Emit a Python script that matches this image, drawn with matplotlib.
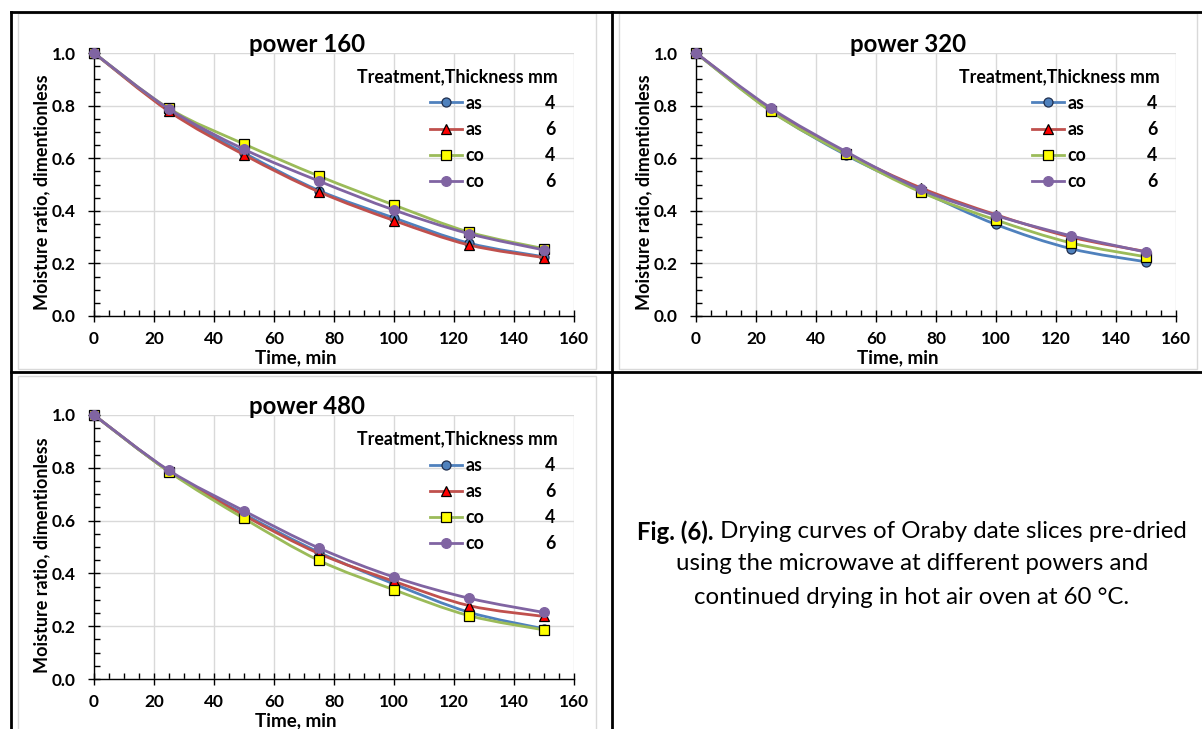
import numpy as np
import matplotlib
matplotlib.use("Agg")
import matplotlib.pyplot as plt
from matplotlib.path import Path
from matplotlib.patches import PathPatch, Rectangle
from matplotlib.lines import Line2D
from matplotlib.ticker import MultipleLocator, FormatStrFormatter

plt.rcParams["font.family"] = ["Lato", "DejaVu Sans"]
plt.rcParams["font.weight"] = "bold"

# Drying time (min)
time_min = [0, 25, 50, 75, 100, 125, 150]

# Moisture ratio for each microwave power (treatment, thickness)
p160_as4 = [1.0, 0.782, 0.620, 0.477, 0.373, 0.277, 0.225]
p160_as6 = [1.0, 0.778, 0.613, 0.472, 0.363, 0.270, 0.222]
p160_co4 = [1.0, 0.789, 0.654, 0.532, 0.422, 0.319, 0.256]
p160_co6 = [1.0, 0.787, 0.634, 0.513, 0.403, 0.313, 0.251]

p320_as4 = [1.0, 0.780, 0.612, 0.475, 0.348, 0.256, 0.206]
p320_as6 = [1.0, 0.785, 0.620, 0.487, 0.385, 0.300, 0.245]
p320_co4 = [1.0, 0.778, 0.615, 0.471, 0.365, 0.278, 0.225]
p320_co6 = [1.0, 0.790, 0.625, 0.481, 0.382, 0.305, 0.243]

p480_as4 = [1.0, 0.787, 0.625, 0.480, 0.360, 0.253, 0.190]
p480_as6 = [1.0, 0.787, 0.620, 0.475, 0.370, 0.278, 0.237]
p480_co4 = [1.0, 0.785, 0.608, 0.449, 0.338, 0.240, 0.186]
p480_co6 = [1.0, 0.790, 0.637, 0.496, 0.386, 0.306, 0.252]

treatments = ["as", "as", "co", "co"]
thickness = ["4", "6", "4", "6"]
panel_titles = ["power 160", "power 320", "power 480"]
panel_data = [
    [p160_as4, p160_as6, p160_co4, p160_co6],
    [p320_as4, p320_as6, p320_co4, p320_co6],
    [p480_as4, p480_as6, p480_co4, p480_co6],
]

line_colors = ["#4F81BD", "#C0504D", "#9BBB59", "#8064A2"]
marker_styles = [
    dict(marker="o", markersize=6.5, markerfacecolor="#4F81BD", markeredgecolor="#1F2F4F", markeredgewidth=0.9),
    dict(marker="^", markersize=7, markerfacecolor="#FF0000", markeredgecolor="#000000", markeredgewidth=0.9),
    dict(marker="s", markersize=7, markerfacecolor="#FFFF00", markeredgecolor="#000000", markeredgewidth=0.9),
    dict(marker="o", markersize=7, markerfacecolor="#8064A2", markeredgecolor="#8064A2", markeredgewidth=0.9),
]

W, H = 1202, 729
fig = plt.figure(figsize=(W / 100, H / 100), dpi=100)


def px_rect(left, top, right, bottom):
    return [left / W, 1 - bottom / H, (right - left) / W, (bottom - top) / H]


def smooth_path(x, y):
    """Cubic Bezier path through the points (smoothed line)."""
    pts = np.column_stack([x, y]).astype(float)
    n = len(pts)
    verts = [pts[0]]
    for i in range(n - 1):
        prev_pt = pts[i - 1] if i > 0 else pts[i]
        next_pt = pts[i + 2] if i + 2 < n else pts[i + 1]
        c1 = pts[i] + (pts[i + 1] - prev_pt) / 6.0
        c2 = pts[i + 1] - (next_pt - pts[i]) / 6.0
        verts += [c1, c2, pts[i + 1]]
    codes = [Path.MOVETO] + [Path.CURVE4] * (3 * (n - 1))
    return Path(verts, codes)


# chart-area outlines (light grey frames)
chart_frames = [(18, 13, 596, 369), (619, 13, 1197, 369), (18, 376, 596, 740)]
for l, t, r, b in chart_frames:
    fig.add_artist(Rectangle((l / W, 1 - b / H), (r - l) / W, (b - t) / H,
                             transform=fig.transFigure, fill=False,
                             edgecolor="#D9D9D9", linewidth=1.0))

axes_boxes = [(94, 53, 574, 316), (696, 53, 1176, 316), (94, 415, 574, 679)]
title_x = [307, 908, 307]
FS_LEG = 12.8

for k, (box, ttl, series) in enumerate(zip(axes_boxes, panel_titles, panel_data)):
    ax = fig.add_axes(px_rect(*box))
    ax.set_xlim(0, 160)
    ax.set_ylim(0, 1.0)
    ax.xaxis.set_major_locator(MultipleLocator(20))
    ax.xaxis.set_minor_locator(MultipleLocator(5))
    ax.yaxis.set_major_locator(MultipleLocator(0.2))
    ax.yaxis.set_minor_locator(MultipleLocator(0.05))
    ax.yaxis.set_major_formatter(FormatStrFormatter("%.1f"))
    ax.grid(True, which="major", color="#D9D9D9", linewidth=1.0)
    ax.set_axisbelow(True)
    for s in ("top", "right"):
        ax.spines[s].set_visible(False)
    for s in ("left", "bottom"):
        ax.spines[s].set_color("black")
        ax.spines[s].set_linewidth(1.0)
    ax.tick_params(which="major", direction="inout", length=8, width=1.0,
                   labelsize=12.4, colors="black")
    ax.tick_params(which="minor", direction="in", length=4, width=1.0)
    ax.tick_params(axis="y", which="major", pad=9)
    ax.tick_params(axis="x", which="major", pad=7)

    for i, yv in enumerate(series):
        patch = PathPatch(smooth_path(time_min, yv), facecolor="none",
                          edgecolor=line_colors[i], linewidth=2.0,
                          zorder=3 + 2 * i, transform=ax.transData)
        ax.add_patch(patch)
        ax.plot(time_min, yv, linestyle="none", clip_on=False,
                zorder=4 + 2 * i, **marker_styles[i])

    fig.text(title_x[k] / W, 1 - (box[1] - 9) / H, ttl, ha="center",
             va="center", fontsize=17.3, fontweight="bold")

    ax.set_xlabel("Time, min", fontsize=13.5, fontweight="bold")
    ax.xaxis.set_label_coords((296 - 94) / 480, -0.125)
    ax.set_ylabel("Moisture ratio, dimentionless", fontsize=13,
                  fontweight="bold")
    ax.yaxis.set_label_coords(-0.092, 0.47)

    handles = [Line2D([], [], color=line_colors[i], linewidth=2.0,
                      **marker_styles[i]) for i in range(4)]
    leg = ax.legend(handles, treatments, title="Treatment,Thickness mm",
                    loc="upper left", bbox_to_anchor=(0.529, 0.975),
                    frameon=False, borderpad=0, handlelength=1.8,
                    handletextpad=0.22, labelspacing=0.52,
                    prop=dict(weight="bold", size=FS_LEG),
                    title_fontproperties=dict(weight="bold", size=FS_LEG))
    leg.set_zorder(20)
    for txt, num in zip(leg.get_texts(), thickness):
        ax.annotate(num, xy=(0, 0.5), xycoords=txt,
                    xytext=(90 * 0.72, 0), textcoords="offset points",
                    ha="right", va="center", fontsize=FS_LEG,
                    fontweight="bold", zorder=25)

# table rules around the panels
rule_kw = dict(color="black", linewidth=2.0, transform=fig.transFigure)
fig.add_artist(Line2D([11 / W, 1.0], [1 - 12 / H, 1 - 12 / H], **rule_kw))
fig.add_artist(Line2D([11 / W, 11 / W], [1 - 12 / H, 0.0], **rule_kw))
fig.add_artist(Line2D([612 / W, 612 / W], [1 - 12 / H, 0.0], **rule_kw))
fig.add_artist(Line2D([11 / W, 1.0], [1 - 372 / H, 1 - 372 / H], **rule_kw))

# caption
cap_x = 912
cap_lines_y = [532, 564, 597]
CAP_FS = 17.3
renderer = fig.canvas.get_renderer()
bold_part = fig.text(0, 1 - cap_lines_y[0] / H, "Fig. (6).", ha="left",
                     va="center", fontsize=CAP_FS, fontweight="bold")
norm_part = fig.text(0, 1 - cap_lines_y[0] / H,
                     " Drying curves of Oraby date slices pre-dried",
                     ha="left", va="center", fontsize=CAP_FS, fontweight="normal")
wb = bold_part.get_window_extent(renderer).width
wn = norm_part.get_window_extent(renderer).width
start = cap_x - (wb + wn) / 2
bold_part.set_x(start / W)
norm_part.set_x((start + wb) / W)
fig.text(cap_x / W, 1 - cap_lines_y[1] / H,
         "using the microwave at different powers and", ha="center",
         va="center", fontsize=CAP_FS, fontweight="normal")
fig.text(cap_x / W, 1 - cap_lines_y[2] / H,
         "continued drying in hot air oven at 60 \u00b0C.", ha="center",
         va="center", fontsize=CAP_FS, fontweight="normal")

fig.savefig("out.png", dpi=100)
